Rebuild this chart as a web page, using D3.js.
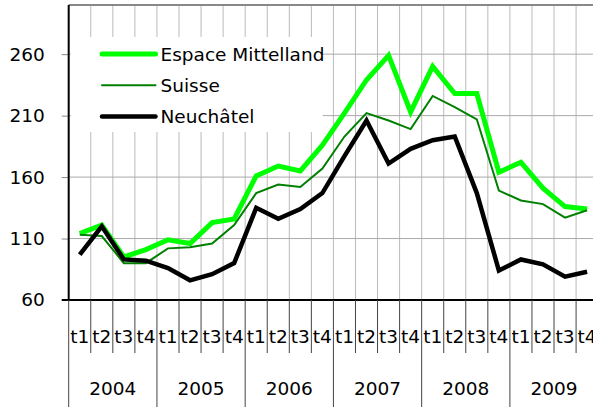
<!DOCTYPE html>
<meta charset="utf-8">
<style>
  body { margin: 0; background: #fff; }
  text { font-family: "DejaVu Sans", Verdana, sans-serif; font-size: 18.5px; fill: #000; }
</style>
<body>
<script src="https://cdn.jsdelivr.net/npm/d3@7"></script>
<script>
  var years = ["2004", "2005", "2006", "2007", "2008", "2009"];
  var quarters = ["t1", "t2", "t3", "t4"];
  var yTicks = [60, 110, 160, 210, 260];

  var espace = [114, 121, 95, 101, 109, 106, 123, 126, 161, 169, 165, 186,
    212, 239, 259, 213, 250, 228, 228, 164, 172, 151, 136, 134];
  var suisse = [113, 112, 90, 90, 102, 103, 106, 121, 147, 154, 152, 167,
    193, 212, 206, 199, 226, 217, 207, 149, 141, 138, 127, 133];
  var neuch = [97, 120, 93, 92, 86, 76, 81, 90, 135, 126, 134, 147,
    177, 206, 171, 183, 190, 193, 147, 84, 93, 89, 79, 83];

  var series = [
    { name: "Espace Mittelland", values: espace, color: "#00ff00", width: 5 },
    { name: "Suisse", values: suisse, color: "#008000", width: 2 },
    { name: "Neuchâtel", values: neuch, color: "#000000", width: 4.5 }
  ];

  var W = 593, H = 407;
  var plotLeft = 68.7, plotTop = 5, plotBottom = 300;

  // one key per quarter
  var keys = [];
  years.forEach(function (yr) {
    quarters.forEach(function (q) { keys.push(yr + "-" + q); });
  });

  var x = d3.scaleBand().domain(keys).range([plotLeft, plotLeft + 22.06 * keys.length]).padding(0);
  var y = d3.scaleLinear().domain([60, 300]).range([plotBottom, plotTop]);
  var cx = function (i) { return x(keys[i]) + x.bandwidth() / 2; };

  var svg = d3.select("body").append("svg")
    .attr("width", W)
    .attr("height", H);

  // vertical grid
  svg.append("g").selectAll("line")
    .data(keys.slice(1))
    .enter().append("line")
    .attr("x1", function (d) { return x(d); })
    .attr("x2", function (d) { return x(d); })
    .attr("y1", plotTop)
    .attr("y2", plotBottom)
    .style("stroke", "#bbb")
    .style("stroke-width", 1);

  // horizontal grid
  svg.append("g").selectAll("line")
    .data(yTicks.slice(1))
    .enter().append("line")
    .attr("x1", plotLeft)
    .attr("x2", W)
    .attr("y1", function (d) { return y(d); })
    .attr("y2", function (d) { return y(d); })
    .style("stroke", "#aaa")
    .style("stroke-width", 1);

  // top border
  svg.append("line")
    .attr("x1", plotLeft).attr("x2", W)
    .attr("y1", plotTop).attr("y2", plotTop)
    .style("stroke", "#888").style("stroke-width", 2);

  // legend background
  svg.append("rect")
    .attr("x", plotLeft + 2).attr("y", 37)
    .attr("width", 252).attr("height", 95)
    .style("fill", "#fff");

  // y axis
  var yAxis = d3.axisLeft(y).tickValues(yTicks).tickSize(7).tickPadding(17);
  var gy = svg.append("g")
    .attr("transform", "translate(" + plotLeft + ",0)")
    .call(yAxis);
  gy.select(".domain").remove();
  gy.selectAll(".tick line").style("stroke", "#888");
  gy.selectAll(".tick text").style("font-size", "18.5px").style("font-family", null);
  gy.selectAll(".tick").filter(function (d) { return d === 60; }).select("line").remove();

  svg.append("line")
    .attr("x1", plotLeft).attr("x2", plotLeft)
    .attr("y1", plotTop).attr("y2", plotBottom)
    .style("stroke", "#000").style("stroke-width", 2);

  // lines
  var line = d3.line()
    .x(function (d, i) { return cx(i); })
    .y(function (d) { return y(d); });

  svg.append("g").selectAll("path")
    .data(series)
    .enter().append("path")
    .attr("d", function (d) { return line(d.values); })
    .style("fill", "none")
    .style("stroke", function (d) { return d.color; })
    .style("stroke-width", function (d) { return d.width; })
    .style("stroke-linejoin", "miter");

  // x axis line
  svg.append("line")
    .attr("x1", plotLeft - 7).attr("x2", W)
    .attr("y1", plotBottom).attr("y2", plotBottom)
    .style("stroke", "#000").style("stroke-width", 2);

  // quarter separators + labels
  var xg = svg.append("g");
  xg.selectAll(".qsep")
    .data(keys)
    .enter().append("line")
    .attr("x1", function (d) { return x(d); })
    .attr("x2", function (d) { return x(d); })
    .attr("y1", plotBottom)
    .attr("y2", function (d, i) { return i % 4 === 0 ? H : 353; })
    .style("stroke", "#444")
    .style("stroke-width", 1);

  xg.selectAll(".qlab")
    .data(keys)
    .enter().append("text")
    .attr("x", function (d, i) { return cx(i); })
    .attr("y", 343)
    .attr("text-anchor", "middle")
    .text(function (d) { return d.split("-")[1]; });

  xg.selectAll(".ylab")
    .data(years)
    .enter().append("text")
    .attr("x", function (d) { return x(d + "-t1") + 2 * x.bandwidth(); })
    .attr("y", 395)
    .attr("text-anchor", "middle")
    .text(function (d) { return d; });

  // legend
  var leg = svg.append("g").selectAll("g")
    .data(series)
    .enter().append("g")
    .attr("transform", function (d, i) { return "translate(0," + (54 + i * 31.3) + ")"; });

  leg.append("line")
    .attr("x1", 102).attr("x2", 155.5)
    .attr("y1", 0).attr("y2", 0)
    .style("stroke", function (d) { return d.color; })
    .style("stroke-width", function (d) { return d.width; })
    .style("stroke-linecap", "round");

  leg.append("text")
    .attr("x", 160.5)
    .attr("y", 6.5)
    .text(function (d) { return d.name; });
</script>
</body>
